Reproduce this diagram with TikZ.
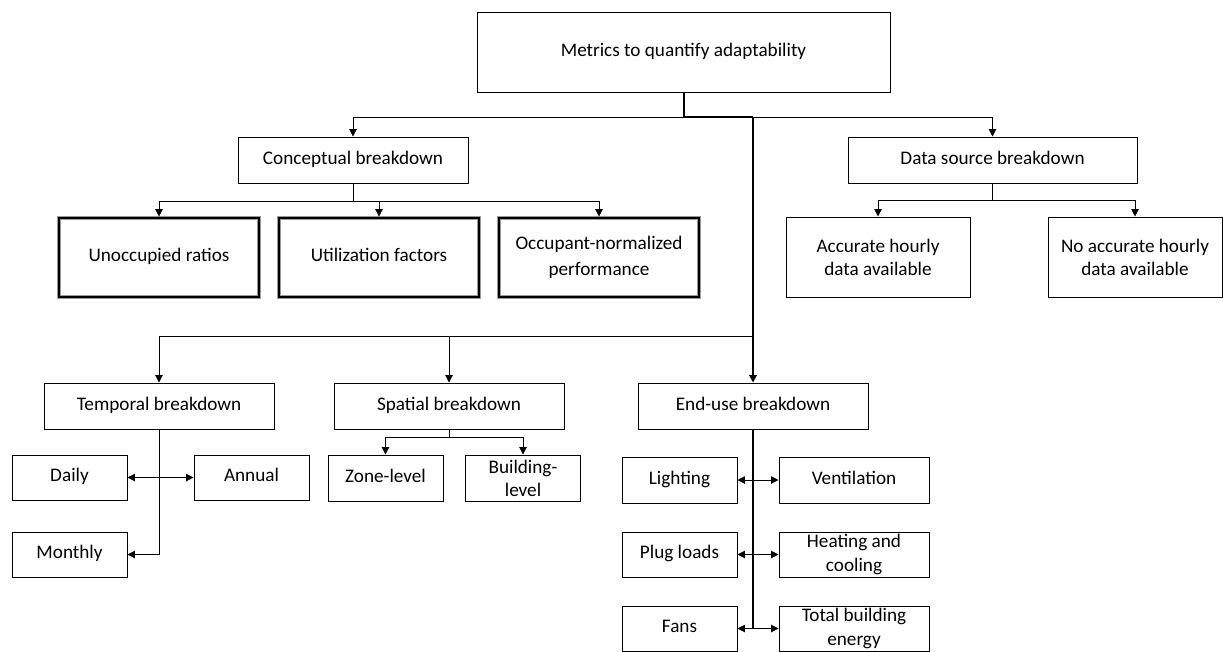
\documentclass[tikz,border=0pt]{standalone}
\usepackage{fontspec}
\setmainfont{Carlito}
\usetikzlibrary{arrows.meta}
\tikzset{
  box/.style={draw, line width=0.75pt, inner sep=0pt, align=center, minimum height=34.5pt},
  boldbox/.style={draw=black, line width=2.2pt, inner sep=0pt, align=center,
    minimum width=150pt, minimum height=59.25pt, preaction={draw=gray!80, line width=3.4pt}},
  oneline/.style={execute at begin node={\rule[-3.8pt]{0pt}{13pt}}},
  link/.style={line width=0.75pt},
  arr/.style={line width=0.75pt, -{Triangle[width=5.5pt,length=5.5pt]}},
  both/.style={line width=0.75pt, {Triangle[width=5.5pt,length=5.5pt]}-{Triangle[width=5.5pt,length=5.5pt]}},
  trunk/.style={line width=1.5pt}
}
\begin{document}
\begin{tikzpicture}[x=0.75pt, y=-0.75pt, font=\fontsize{14.4}{17.3}\selectfont]
  \useasboundingbox (0,0) rectangle (1223,651);

  \node[box, oneline, minimum width=309.75pt, minimum height=60pt] (top) at (683.5,52) {Metrics to quantify adaptability};
  \node[box, oneline, minimum width=172.5pt] (concept) at (353,160) {Conceptual breakdown};
  \node[box, oneline, minimum width=216.75pt] (datasrc) at (992.5,160) {Data source breakdown};

  \node[boldbox, oneline] (unocc) at (159,257.5) {Unoccupied ratios};
  \node[boldbox, oneline] (util) at (379,257.5) {Utilization factors};
  \node[boldbox, font=\fontsize{14.4}{20}\selectfont] (occnorm) at (599,257.5) {Occupant-normalized\\performance};

  \node[box, minimum width=138pt, minimum height=60pt] (accurate) at (878,257) {Accurate hourly\\data available};
  \node[box, minimum width=130.5pt, minimum height=60pt] (noacc) at (1135,257) {No accurate hourly\\data available};

  \node[box, oneline, minimum width=172.5pt] (temporal) at (159,406) {Temporal breakdown};
  \node[box, oneline, minimum width=172.5pt] (spatial) at (449,406) {Spatial breakdown};
  \node[box, oneline, minimum width=172.5pt] (enduse) at (753,406) {End-use breakdown};

  \node[box, oneline, minimum width=86.25pt, minimum height=33.75pt] (daily) at (69.5,477.5) {Daily};
  \node[box, oneline, minimum width=86.25pt, minimum height=33.75pt] (annual) at (251.5,477.5) {Annual};
  \node[box, oneline, minimum width=86.25pt, minimum height=33.75pt] (monthly) at (69.5,554.5) {Monthly};

  \node[box, oneline, minimum width=86.25pt] (zone) at (385.5,478) {Zone-level};
  \node[box, minimum width=86.25pt] (building) at (523,478) {Building-\\level};

  \node[box, oneline, minimum width=86.25pt] (lighting) at (679.5,480) {Lighting};
  \node[box, oneline, minimum width=112.5pt] (ventilation) at (854,480) {Ventilation};
  \node[box, oneline, minimum width=86.25pt, minimum height=33.75pt] (plug) at (679.5,554.5) {Plug loads};
  \node[box, minimum width=112.5pt, minimum height=33.75pt] (heating) at (854,554.5) {Heating and\\cooling};
  \node[box, oneline, minimum width=86.25pt, minimum height=33.75pt] (fans) at (679.5,628.5) {Fans};
  \node[box, minimum width=112.5pt, minimum height=33.75pt] (total) at (854,628.5) {Total building\\energy};

  \coordinate (hub) at (753,117);
  \coordinate (midsplit) at (753,336);
  \coordinate (euend) at (753,629);

  \draw[trunk] (top.south) |- (hub);
  \draw[trunk, -{Triangle[width=5.5pt,length=5.5pt]}] (hub) -- (enduse.north);
  \draw[arr] (hub) -| (concept.north);
  \draw[arr] (hub) -| (datasrc.north);

  \draw[arr] (concept.south) -- ++(0,18) -| (unocc.north);
  \draw[arr] (concept.south) -- ++(0,18) -| (util.north);
  \draw[arr] (concept.south) -- ++(0,18) -| (occnorm.north);

  \draw[arr] (datasrc.south) -- ++(0,17) -| (accurate.north);
  \draw[arr] (datasrc.south) -- ++(0,17) -| (noacc.north);

  \draw[arr] (midsplit) -| (temporal.north);
  \draw[arr] (midsplit) -| (spatial.north);

  \draw[arr] (temporal.south) |- (monthly.east);
  \draw[both] (daily.east) -- (annual.west);

  \draw[arr] (spatial.south) -- ++(0,8) -| (zone.north);
  \draw[arr] (spatial.south) -- ++(0,8) -| (building.north);

  \draw[trunk] (enduse.south) -- (euend);
  \draw[both] (lighting.east) -- (ventilation.west);
  \draw[both] (plug.east) -- (heating.west);
  \draw[both] (fans.east) -- (total.west);
\end{tikzpicture}
\end{document}
